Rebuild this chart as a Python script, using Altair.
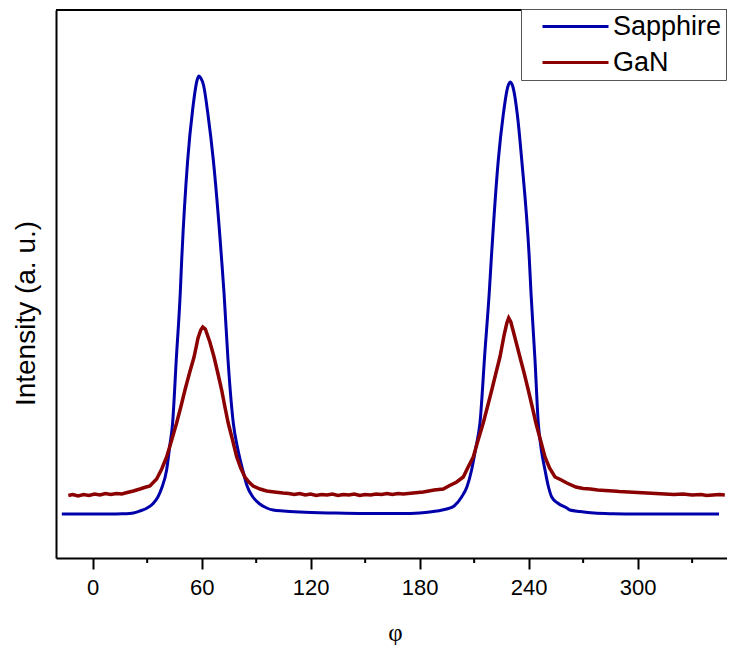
import altair as alt
import pandas as pd

# ---- data (phi in degrees, intensity in a.u.) ----
sapphire_phi = [-17, -10, 0, 10, 16, 20, 22.4, 26, 30, 33, 35.9, 38, 40.7, 42.5, 44, 46,
                48.2, 49.0, 52.3, 55, 57.5, 58.5, 59.5, 61, 63.5, 66.4, 71.0, 72.3, 74.5,
                77.4, 80, 82.6, 85, 88.2, 92, 95.8, 99.3, 105, 114, 132.5, 150, 170, 180,
                189.4, 194.9, 199, 203.1, 206, 208.6, 211, 213.2, 216, 218.3, 219.4, 223.3,
                226, 228.5, 229.9, 231.5, 233.8, 236.2, 240.4, 241.3, 243.5, 245.3, 247,
                249.0, 250.8, 252.7, 256, 261, 262.7, 268.3, 276, 286.5, 300, 320, 344.8]
sapphire_int = [44, 44, 44, 44, 44.2, 44.5, 45, 47, 50, 54, 61, 70, 88, 113, 135, 198,
                265, 298, 398, 448, 478, 482, 480, 473, 443, 398, 298, 265, 198,
                135, 108, 88, 72, 61, 54, 50, 48, 47, 46, 45, 44.5, 44.5, 45,
                47, 49, 52, 61, 71, 88, 111, 135, 208, 265, 298, 398,
                443, 471, 476, 470, 443, 398, 298, 265, 198, 135, 108,
                88, 72, 61, 55, 50, 48, 46.5, 45, 44.3, 44, 44, 44]

gan_phi = [-13.4, -11, -8, -5, -2, 1, 4, 7, 10, 13, 16, 19, 22.4, 26, 28.5, 31.5, 35.2,
           38, 40.7, 43.5, 46.2, 48.5, 50.8, 53.3, 55.8, 58, 59.5, 60.6, 62, 64.5, 66.8,
           69, 71.0, 72.8, 74.6, 77, 79.3, 81.5, 83.8, 86, 88.3, 92.1, 95.8, 100, 104.8,
           108, 111, 114, 117, 120, 123, 126, 129, 132, 135, 138, 141, 144, 147, 150,
           153, 156, 159, 162, 165, 168, 171, 176.4, 182, 188, 193, 196, 200.4, 204.0,
           206.7, 209.5, 212.2, 215.0, 217.3, 219.7, 222, 224.2, 226.5, 228, 229.0,
           230.2, 232.5, 235.2, 237.5, 239.8, 242, 244.0, 246.5, 249.0, 251.5, 254.5,
           258, 261, 266, 270, 274, 278, 282, 286.5, 290, 295, 300, 305, 310, 315,
           320, 325, 330, 335, 338, 341.5, 345, 348]
gan_int = [62.5, 63.5, 62, 63.5, 62.5, 64, 63, 64.5, 63.5, 64.5, 64, 65.5, 67, 69, 70.5, 72, 79,
           89, 101, 118, 135, 151, 168, 185, 201, 220, 228, 231, 229, 216, 201,
           184, 168, 151, 135, 118, 101, 90, 81, 76, 72, 69, 67, 66, 65,
           64.5, 63.5, 64.5, 63, 64, 62.5, 63.5, 63, 64, 62.5, 63.5, 63, 64, 62.5, 63.5,
           63, 64, 63.5, 64.5, 63.5, 64.5, 64, 65, 66, 68, 69, 72, 76, 81,
           91, 101, 118, 135, 151, 168, 185, 201, 223, 235, 240,
           236, 220, 201, 185, 168, 151, 135, 118, 101, 90, 81,
           78, 75, 71, 69.5, 69, 68, 67.5, 67, 66.5, 66, 65.5, 65, 64.5, 64,
           63.5, 64, 63, 63.5, 62.5, 63, 63.5, 63]

series_names = ["Sapphire", "GaN"]
series_colors = ["#0000AA", "#8B0000"]
major_ticks = [0, 60, 120, 180, 240, 300]
minor_ticks = [30, 90, 150, 210, 270, 330]

W, H = 671, 548
X_DOMAIN = [-20.2, 349.2]
Y_DOMAIN = [0, 548]

df_s = pd.DataFrame({"phi": sapphire_phi, "intensity": sapphire_int, "series": "Sapphire"})
df_g = pd.DataFrame({"phi": gan_phi, "intensity": gan_int, "series": "GaN"})
df_minor = pd.DataFrame({"phi": minor_ticks})

xscale = alt.Scale(domain=X_DOMAIN, nice=False, zero=False)
yscale = alt.Scale(domain=Y_DOMAIN, nice=False, zero=False)

color = alt.Color(
    "series:N",
    scale=alt.Scale(domain=series_names, range=series_colors),
    sort=series_names,
    legend=alt.Legend(
        title=None, orient="none", legendX=465, legendY=-1,
        symbolType="M-3,0H3", symbolSize=484, symbolStrokeWidth=3,
        labelFont="Liberation Sans", labelFontSize=27, labelColor="black",
        labelLimit=0, strokeColor="#555555", fillColor="white", padding=4,
        symbolOffset=37, labelOffset=24, rowPadding=8,
    ),
)

xaxis = alt.Axis(
    values=major_ticks, tickSize=11, tickWidth=2, tickColor="black",
    domainColor="black", domainWidth=2, grid=False,
    labelFont="Liberation Sans", labelFontSize=22, labelColor="black", labelPadding=8,
    title="φ", titleFont="Liberation Serif", titleFontSize=25, titleFontWeight="normal",
    titleColor="black", titleY=74, titleBaseline="middle", titleX=339,
)
yaxis = alt.Axis(
    labels=False, ticks=False, grid=False, domainColor="black", domainWidth=2,
    title="Intensity (a. u.)", titleFont="Liberation Sans", titleFontSize=28,
    titleFontWeight="normal", titleColor="black", titleX=-22, titleY=303,
    titleBaseline="alphabetic", titleAngle=270,
)

sapphire = alt.Chart(df_s).mark_line(strokeWidth=3, interpolate="monotone").encode(
    x=alt.X("phi:Q", scale=xscale, axis=xaxis),
    y=alt.Y("intensity:Q", scale=yscale, axis=yaxis),
    color=color,
)
gan = alt.Chart(df_g).mark_line(strokeWidth=3.5, interpolate="linear").encode(
    x=alt.X("phi:Q", scale=xscale),
    y=alt.Y("intensity:Q", scale=yscale),
    color=color,
)
minor = alt.Chart(df_minor).mark_rule(color="black", strokeWidth=2).encode(
    x=alt.X("phi:Q", scale=xscale),
    y=alt.value(H),
    y2=alt.value(H + 5),
)
top = alt.Chart(df_minor).mark_rule(color="black", strokeWidth=2).encode(
    x=alt.value(0), x2=alt.value(W), y=alt.value(0)
)

chart = alt.layer(sapphire, gan, minor, top).properties(
    width=W, height=H,
    autosize=alt.AutoSizeParams(type="none"),
    padding={"left": 48, "top": 2, "right": 0, "bottom": 87},
).configure_view(stroke=None).configure(background="white")

chart.save("out.html", embed_options={"renderer": "svg", "actions": False})
